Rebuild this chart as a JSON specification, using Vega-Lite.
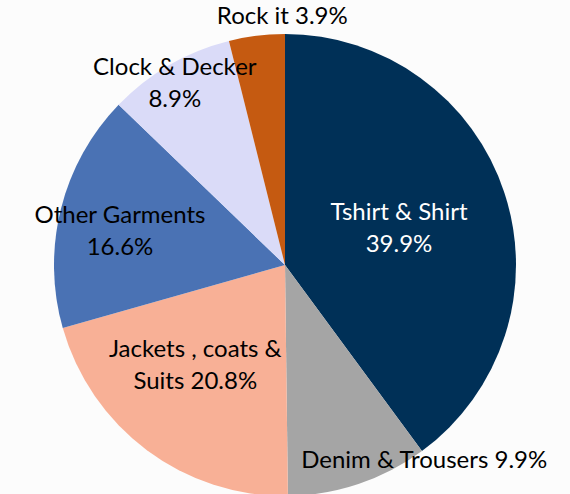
{
  "$schema": "https://vega.github.io/schema/vega-lite/v6.json",
  "autosize": "none",
  "width": 570,
  "height": 458,
  "padding": {"top": 36, "left": 0, "right": 0, "bottom": 0},
  "background": "#fcfcfc",
  "config": {"view": {"stroke": null}, "text": {"font": "Lato", "fontSize": 24, "lineBreak": "\n", "lineHeight": 32}},
  "data": {
    "values": [
      {"order": 1, "category": "Tshirt & Shirt", "share": 39.9, "label": "Tshirt & Shirt\n39.9%"},
      {"order": 2, "category": "Denim & Trousers", "share": 9.9, "label": "Denim & Trousers 9.9%"},
      {"order": 3, "category": "Jackets , coats & Suits", "share": 20.8, "label": "Jackets , coats &\nSuits 20.8%"},
      {"order": 4, "category": "Other Garments", "share": 16.6, "label": "Other Garments\n16.6%"},
      {"order": 5, "category": "Clock & Decker", "share": 8.9, "label": "Clock & Decker\n8.9%"},
      {"order": 6, "category": "Rock it", "share": 3.9, "label": "Rock it 3.9%"}
    ]
  },
  "encoding": {
    "theta": {"field": "share", "type": "quantitative", "stack": true},
    "order": {"field": "order", "type": "quantitative"}
  },
  "layer": [
    {
      "mark": {"type": "arc", "outerRadius": 231},
      "encoding": {
        "color": {
          "field": "category",
          "type": "nominal",
          "sort": null,
          "legend": null,
          "scale": {
            "domain": ["Tshirt & Shirt", "Denim & Trousers", "Jackets , coats & Suits", "Other Garments", "Clock & Decker", "Rock it"],
            "range": ["#003057", "#A5A5A5", "#F8B096", "#4A72B4", "#DADBF8", "#C55A11"]
          }
        }
      }
    },
    {
      "mark": {"type": "text", "radius": 120, "dy": -15, "fill": "#ffffff"},
      "encoding": {"text": {"condition": {"test": "datum.category == 'Tshirt & Shirt'", "field": "label"}, "value": ""}}
    },
    {
      "mark": {"type": "text", "radius": 205, "dx": 74, "dy": 2, "fill": "#000000"},
      "encoding": {"text": {"condition": {"test": "datum.category == 'Denim & Trousers'", "field": "label"}, "value": ""}}
    },
    {
      "mark": {"type": "text", "radius": 135, "dx": -9, "dy": -23, "fill": "#000000"},
      "encoding": {"text": {"condition": {"test": "datum.category == 'Jackets , coats & Suits'", "field": "label"}, "value": ""}}
    },
    {
      "mark": {"type": "text", "radius": 168, "dx": -2, "dy": -8, "fill": "#000000"},
      "encoding": {"text": {"condition": {"test": "datum.category == 'Other Garments'", "field": "label"}, "value": ""}}
    },
    {
      "mark": {"type": "text", "radius": 214, "dx": -3, "dy": -12, "fill": "#000000"},
      "encoding": {"text": {"condition": {"test": "datum.category == 'Clock & Decker'", "field": "label"}, "value": ""}}
    },
    {
      "mark": {"type": "text", "radius": 251, "dx": 28, "dy": 1, "fill": "#000000"},
      "encoding": {"text": {"condition": {"test": "datum.category == 'Rock it'", "field": "label"}, "value": ""}}
    }
  ]
}
